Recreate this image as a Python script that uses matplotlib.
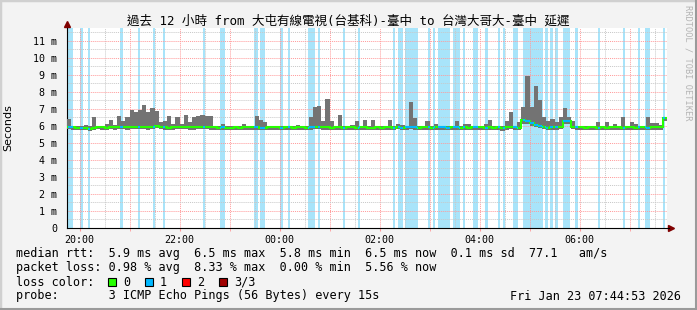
import numpy as np
import matplotlib.pyplot as plt
from matplotlib.patches import Rectangle

# SmokePing: 12 h of 5 minute steps, hours counted from Jan 22 00:00
t_start = 19.75
step_h = 5 / 60
x_lo, x_hi = 19.748, 31.748   # 19:44:53 .. 07:44:53

# smoke top (max rtt), ms
rtt_max = [
    6.40, 6.00, 6.00, 6.00, 6.05, 6.00, 6.50, 6.00, 6.00, 6.10, 6.35, 6.05,
    6.55, 6.30, 6.50, 6.95, 6.80, 6.90, 7.20, 6.80, 7.05, 6.85, 6.20, 6.30,
    6.60, 6.10, 6.50, 6.10, 6.65, 6.20, 6.50, 6.60, 6.65, 6.60, 6.55, 6.00,
    6.00, 6.10, 6.00, 6.00, 6.00, 6.00, 6.10, 6.00, 6.00, 6.60, 6.35, 6.20,
    6.00, 6.00, 6.00, 6.00, 6.00, 6.00, 6.00, 6.05, 6.00, 6.00, 6.50, 7.10,
    7.15, 6.30, 7.55, 6.30, 6.00, 6.65, 6.00, 6.00, 6.05, 6.30, 6.00, 6.35,
    6.00, 6.35, 6.00, 6.00, 6.00, 6.35, 6.00, 6.10, 6.05, 6.00, 7.40, 6.45,
    6.00, 6.00, 6.30, 6.00, 6.10, 6.00, 6.00, 6.00, 6.00, 6.30, 6.00, 6.10,
    6.10, 6.00, 6.00, 6.00, 6.10, 6.35, 6.00, 6.00, 6.00, 6.30, 6.80, 6.00,
    6.20, 7.10, 8.90, 7.10, 8.35, 7.50, 6.50, 6.30, 6.40, 6.20, 6.50, 7.05,
    6.50, 6.30, 6.00, 6.00, 6.00, 6.00, 6.00, 6.20, 6.00, 6.25, 6.00, 6.10,
    6.00, 6.50, 6.00, 6.20, 6.10, 6.00, 6.00, 6.50, 6.15, 6.15, 6.05, 6.50,
]

# smoke bottom (min rtt), ms
rtt_min = [
    5.80, 5.78, 5.78, 5.75, 5.75, 5.72, 5.78, 5.80, 5.78, 5.78, 5.80, 5.78,
    5.80, 5.80, 5.78, 5.80, 5.82, 5.80, 5.80, 5.78, 5.82, 5.85, 5.80, 5.78,
    5.78, 5.78, 5.80, 5.82, 5.80, 5.78, 5.78, 5.80, 5.82, 5.80, 5.78, 5.78,
    5.78, 5.78, 5.76, 5.76, 5.78, 5.76, 5.78, 5.78, 5.78, 5.78, 5.74, 5.76,
    5.78, 5.78, 5.78, 5.76, 5.78, 5.78, 5.76, 5.78, 5.78, 5.76, 5.78, 5.80,
    5.80, 5.78, 5.78, 5.76, 5.78, 5.78, 5.76, 5.78, 5.78, 5.76, 5.78, 5.78,
    5.74, 5.76, 5.78, 5.76, 5.78, 5.78, 5.76, 5.80, 5.76, 5.78, 5.80, 5.78,
    5.76, 5.78, 5.78, 5.76, 5.78, 5.78, 5.78, 5.76, 5.78, 5.78, 5.76, 5.78,
    5.76, 5.78, 5.78, 5.78, 5.76, 5.78, 5.76, 5.78, 5.72, 5.78, 5.80, 5.78,
    5.76, 6.10, 6.10, 6.00, 5.95, 5.88, 5.80, 5.76, 5.78, 5.78, 5.80, 6.10,
    6.10, 5.82, 5.78, 5.78, 5.76, 5.78, 5.78, 5.76, 5.78, 5.76, 5.78, 5.78,
    5.78, 5.76, 5.78, 5.78, 5.76, 5.78, 5.78, 5.76, 5.78, 5.78, 5.78, 6.30,
]

# median rtt, ms
rtt_median = [
    5.95, 5.90, 5.88, 5.85, 5.85, 5.82, 5.88, 5.90, 5.90, 5.88, 5.90, 5.90,
    5.92, 5.90, 5.90, 5.92, 5.95, 5.93, 5.93, 5.90, 5.95, 6.00, 5.92, 5.90,
    5.88, 5.90, 5.92, 5.95, 5.92, 5.90, 5.90, 5.92, 5.95, 5.92, 5.90, 5.90,
    5.88, 5.90, 5.88, 5.88, 5.90, 5.88, 5.90, 5.90, 5.90, 5.90, 5.85, 5.88,
    5.90, 5.90, 5.90, 5.88, 5.90, 5.90, 5.88, 5.90, 5.90, 5.88, 5.90, 5.92,
    5.92, 5.90, 5.90, 5.88, 5.90, 5.90, 5.88, 5.90, 5.90, 5.88, 5.90, 5.90,
    5.85, 5.88, 5.90, 5.88, 5.90, 5.90, 5.88, 5.92, 5.88, 5.90, 5.92, 5.90,
    5.88, 5.90, 5.90, 5.88, 5.90, 5.90, 5.90, 5.88, 5.90, 5.90, 5.88, 5.90,
    5.88, 5.90, 5.90, 5.90, 5.88, 5.90, 5.88, 5.90, 5.85, 5.90, 5.92, 5.90,
    5.88, 6.35, 6.30, 6.15, 6.05, 6.00, 5.92, 5.88, 5.90, 5.90, 5.92, 6.30,
    6.30, 5.95, 5.90, 5.90, 5.88, 5.90, 5.90, 5.88, 5.90, 5.88, 5.90, 5.90,
    5.90, 5.88, 5.90, 5.90, 5.88, 5.90, 5.90, 5.88, 5.90, 5.90, 5.90, 6.45,
]

# periods with 1 of 3 pings lost (start, end) in hours
loss_bands = [
    (19.76, 19.86), (20.00, 20.06), (20.16, 20.20), (20.80, 20.86),
    (21.16, 21.20), (21.46, 21.50), (21.66, 21.70), (22.46, 22.50),
    (22.80, 22.90), (23.48, 23.56), (23.60, 23.70), (24.00, 24.06),
    (24.16, 24.20), (24.56, 24.70), (24.76, 24.80), (25.26, 25.30),
    (25.56, 25.60), (26.26, 26.30), (26.36, 26.46), (26.50, 26.76),
    (26.96, 27.00), (27.06, 27.10), (27.16, 27.40), (27.46, 27.60),
    (27.66, 27.70), (27.86, 27.96), (28.10, 28.16), (28.36, 28.40),
    (28.46, 28.50), (28.66, 28.76), (28.86, 29.26), (29.30, 29.36),
    (29.40, 29.46), (29.50, 29.56), (29.66, 29.80), (29.90, 29.96),
    (30.36, 30.40), (30.86, 30.90), (31.16, 31.20), (31.30, 31.40),
    (31.66, 31.70),
]

label_hours = [20, 22, 24, 26, 28, 30]
hour_labels = ['20:00', '22:00', '00:00', '02:00', '04:00', '06:00']
y_ticks = list(range(12))
y_labels = ['0'] + ['%d m' % v for v in range(1, 12)]

title = '過去 12 小時 from 大屯有線電視(台基科)-臺中 to 台灣大哥大-臺中 延遲'
stat_lines = [
    'median rtt:  5.9 ms avg  6.5 ms max  5.8 ms min  6.5 ms now  0.1 ms sd  77.1   am/s',
    'packet loss: 0.98 % avg  8.33 % max  0.00 % min  5.56 % now',
]
loss_names = ['0', '1', '2', '3/3']
loss_colors = ['#26ff00', '#00b8ff', '#ff0000', '#a00000']
probe_text = 'probe:       3 ICMP Echo Pings (56 Bytes) every 15s'
stamp = 'Fri Jan 23 07:44:53 2026'

mono = 'DejaVu Sans Mono'
W, H = 697, 310

fig = plt.figure(figsize=(W / 100, H / 100), dpi=100, facecolor='#f3f3f3')
ax = fig.add_axes([67 / W, 1 - 228 / H, 600 / W, 200 / H])
ax.set_facecolor('white')
ax.set_xlim(x_lo, x_hi)
ax.set_ylim(0, 11.74)

# loss background bands
for a, b in loss_bands:
    ax.axvspan(a, b, color='#a8e4fa', lw=0, zorder=1)

# dotted grid
dots = (0, (1, 1))
for h in np.arange(20.5, 32, 1.0):
    ax.axvline(h, color='#c8c8c8', lw=0.7, ls=dots, zorder=2)
for h in range(20, 32):
    ax.axvline(h, color='#ff9a9a', lw=0.7, ls=dots, zorder=2)
for v in np.arange(0.5, 12, 1.0):
    ax.axhline(v, color='#c8c8c8', lw=0.7, ls=dots, zorder=2)
for v in range(1, 12):
    ax.axhline(v, color='#ff9a9a', lw=0.7, ls=dots, zorder=2)

# smoke and median
edges = t_start + step_h * np.arange(len(rtt_max) + 1)
ax.stairs(rtt_max, edges, baseline=rtt_min, fill=True, color='#737373', lw=0, zorder=3)
ax.stairs(rtt_median, edges, baseline=None, color=loss_colors[0], lw=1.5, zorder=4)
for a, b in loss_bands:
    i0 = int((a - t_start) / step_h)
    i1 = int((b - t_start - 1e-9) / step_h)
    for i in range(max(i0, 0), min(i1, len(rtt_median) - 1) + 1):
        s = max(a, edges[i])
        e = min(b, edges[i + 1])
        ax.hlines(rtt_median[i], s, e, color=loss_colors[1], lw=1.5, zorder=5)

# axes
for side in ['top', 'right']:
    ax.spines[side].set_visible(False)
ax.spines['left'].set_linewidth(0.8)
ax.spines['bottom'].set_linewidth(0.8)
ax.spines['bottom'].set_bounds(x_lo, x_hi + 0.03)
ax.set_xticks(label_hours)
ax.set_xticklabels(hour_labels, family=mono, fontsize=7.2)
ax.set_xticks(np.arange(20, 32, 1.0), minor=True)
ax.set_yticks(y_ticks)
ax.set_yticklabels(y_labels, family=mono, fontsize=7.2)
ax.tick_params(axis='x', which='major', length=2, color='#ff9a9a', pad=3)
ax.tick_params(axis='x', which='minor', length=2, color='#ff9a9a')
ax.tick_params(axis='y', length=0, pad=7)
ax.set_ylabel('Seconds', fontsize=8)
ax.yaxis.set_label_coords(-54 / 600, 0.5)

# arrow heads
ax.plot([0], [1.0 + 4 / 200], marker='^', ms=4, color='#800000', transform=ax.transAxes, clip_on=False)
ax.plot([1.0 + 4 / 600], [0], marker='>', ms=4, color='#800000', transform=ax.transAxes, clip_on=False)

fig.text(0.5, 1 - 21 / H, title, ha='center', va='center', fontsize=9,
         family=[mono, 'Noto Sans CJK TC'])
fig.text(688 / W, 1 - 5 / H, 'RRDTOOL / TOBI OETIKER', rotation=270, ha='center', va='top',
         fontsize=6.2, family=mono, color='#b4b4b4')

# legend block
for k, line in enumerate(stat_lines):
    fig.text(16 / W, 1 - (254 + 14 * k) / H, line, family=mono, fontsize=8.5, va='center')
fig.text(16 / W, 1 - 282 / H, 'loss color:', family=mono, fontsize=8.5, va='center')
for k, (name, col) in enumerate(zip(loss_names, loss_colors)):
    bx = 108 + 37 * k
    fig.patches.append(Rectangle((bx / W, 1 - 286 / H), 8 / W, 8 / H, transform=fig.transFigure,
                                 facecolor=col, edgecolor='black', lw=0.8))
    fig.text((bx + 15) / W, 1 - 282 / H, name, family=mono, fontsize=8.5, va='center')
fig.text(16 / W, 1 - 296 / H, probe_text, family=mono, fontsize=8.5, va='center')
fig.text(681 / W, 1 - 296 / H, stamp, family=mono, fontsize=8.5, va='center', ha='right')

# frame
fig.patches.append(Rectangle((0, 0), 1, 1, transform=fig.transFigure, fill=False,
                             edgecolor='#d0d0d0', lw=2.5))
fig.lines.append(plt.Line2D([1 - 1.5 / W, 1 - 1.5 / W], [0, 1], transform=fig.transFigure,
                            color='#9a9a9a', lw=1.5))
fig.lines.append(plt.Line2D([0, 1], [1.5 / H, 1.5 / H], transform=fig.transFigure,
                            color='#9a9a9a', lw=1.5))

fig.savefig('out.png', dpi=100, facecolor=fig.get_facecolor())
